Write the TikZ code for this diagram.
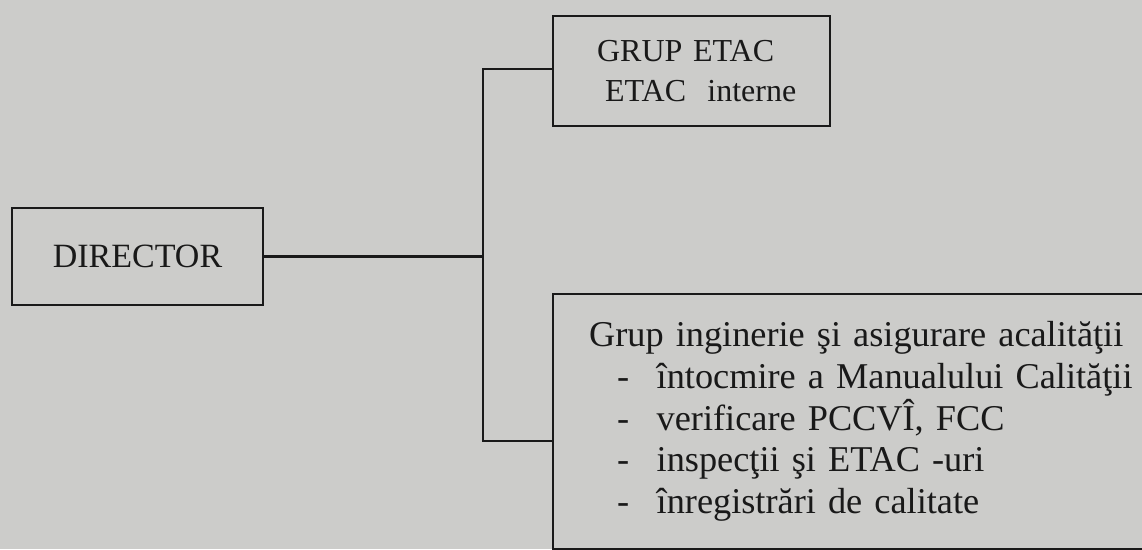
\documentclass[tikz,border=0pt]{standalone}
\usepackage{fontspec}
\setmainfont{Liberation Serif}
\usepackage{tikz}
\definecolor{paper}{RGB}{204,204,202}
\definecolor{ink}{RGB}{25,25,25}
\newcommand{\dashitem}{\hspace*{28pt}-\hspace{27.5pt}}

\begin{document}
\begin{tikzpicture}[x=1pt, y=-1pt,
    box/.style={draw=ink, line width=2.2pt, rectangle, inner sep=0pt, text=ink},
    wire/.style={draw=ink, line width=2.2pt}]
  \useasboundingbox (0,0) rectangle (1142,549);
  \fill[paper] (0,0) rectangle (1142,549);
  \node[box, minimum width=251pt, minimum height=97pt,
        font=\fontsize{34}{40}\selectfont] (director) at (137.5,256.5) {DIRECTOR};
  \node[box, anchor=north west, inner xsep=44pt, text width=189pt,
        minimum height=110pt, align=left,
        font=\fontsize{32}{40}\selectfont] (grup) at (552,15)
        {\mbox{GRUP ETAC}\\\mbox{\hspace*{8pt}ETAC~~interne}};
  \node[box, anchor=north west, inner xsep=36pt, text width=560pt,
        minimum height=255pt, align=left,
        font=\fontsize{36.3}{41.7}\selectfont] (ing) at (552,293)
        {Grup inginerie şi asigurare acalităţii\\
         \dashitem întocmire a Manualului Calităţii\\
         \dashitem verificare PCCVÎ, FCC\\
         \dashitem inspecţii şi ETAC -uri\\
         \dashitem înregistrări de calitate};
  % ramificatie
  \coordinate (split) at (483,256.5);
  \coordinate (topj) at (483,69);
  \coordinate (botj) at (483,441);
  \draw[wire] (director.east) -- (split);
  \draw[wire, line cap=rect] (grup.west |- topj) -- (topj) -- (botj) -- (ing.west |- botj);
\end{tikzpicture}
\end{document}
